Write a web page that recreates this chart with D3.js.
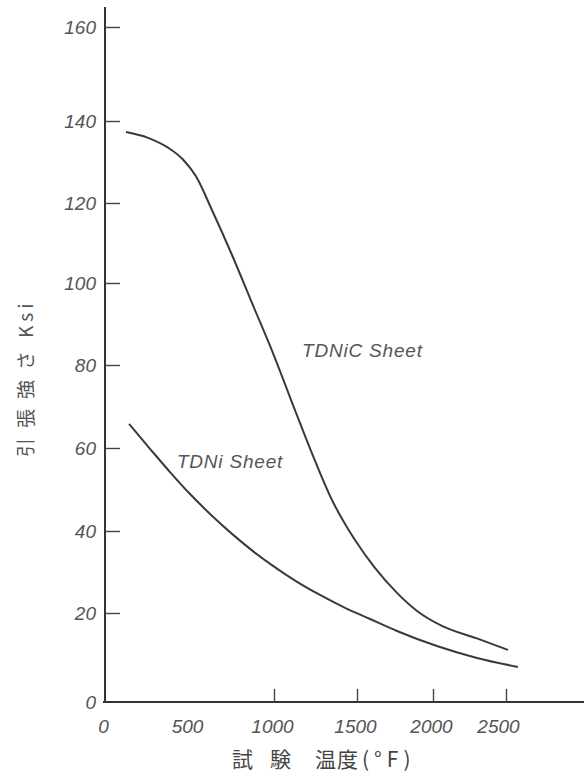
<!DOCTYPE html>
<html>
<head>
<meta charset="utf-8">
<script src="https://cdn.jsdelivr.net/npm/d3@7"></script>
<style>
  html, body { margin: 0; padding: 0; background: #fff; }
  svg { display: block; }
  .tick-label { font-family: "Liberation Sans", "DejaVu Sans", sans-serif; font-style: italic; fill: #555; font-size: 19px; }
</style>
</head>
<body>
<svg id="chart" width="584" height="776"></svg>
<script>
// ---- data ----
const tempTDNiC = [125, 256, 375, 464, 541, 635, 753, 876, 994, 1114, 1235, 1355, 1428, 1488, 1618, 1763, 1895, 2068, 2301, 2514];
const strengthTDNiC = [137.3, 135.9, 133.5, 130.6, 126.5, 118.25, 107, 94.6, 82.9, 70.4, 58.1, 47, 41.7, 37.8, 31, 24.9, 20.5, 17.0, 14.3, 11.7];
const tempTDNi = [143, 268, 387, 506, 624, 753, 876, 994, 1139, 1277, 1416, 1586, 1763, 2027, 2301, 2582];
const strengthTDNi = [65.8, 59.8, 54.2, 48.9, 44.1, 39.3, 35.1, 31.5, 27.6, 24.4, 21.5, 18.65, 15.96, 12.58, 9.89, 7.87];
const xTickLabels = [0, 500, 1000, 1500, 2000, 2500];
const xTickMarks = [1000, 1500, 2000, 2500];
const yTickLabels = [0, 20, 40, 60, 80, 100, 120, 140, 160];
const yTickMarks = [20, 40, 60, 80, 100, 120, 140, 160];
const seriesNames = ["TDNiC Sheet", "TDNi Sheet"];
const xTitleParts = ["試", "験", "温度", "(°F)"];
const yTitleParts = ["引張強さ", "Ksi"];

// ---- scales (hand-drawn original: piecewise linear) ----
const x = d3.scaleLinear().domain(xTickLabels).range([105, 189, 274, 357, 433, 506]);
const y = d3.scaleLinear().domain(yTickLabels).range([702, 613, 531, 448, 365, 283, 203, 121, 27]);

const svg = d3.select("#chart");
const axisColor = "#333";
const axisX = 105, axisY = 702;

// axis lines
svg.append("line").attr("x1", axisX).attr("x2", axisX).attr("y1", 7).attr("y2", axisY)
  .attr("stroke", axisColor).attr("stroke-width", 2);
svg.append("line").attr("x1", axisX - 2).attr("x2", 584).attr("y1", axisY).attr("y2", axisY)
  .attr("stroke", axisColor).attr("stroke-width", 2);

// y tick marks (inside)
const yMarks = svg.append("g").attr("transform", `translate(${axisX},0)`)
  .call(d3.axisRight(y).tickValues(yTickMarks).tickSize(15).tickFormat(""));
yMarks.select(".domain").remove();
yMarks.selectAll(".tick line").attr("stroke", "#444").attr("stroke-width", 1.4);

// y tick labels
const yLab = svg.append("g").attr("transform", `translate(${axisX},0)`)
  .call(d3.axisLeft(y).tickValues(yTickLabels).tickSize(0).tickPadding(9).tickFormat(d => d));
yLab.select(".domain").remove();
yLab.selectAll("text").attr("class", "tick-label").attr("font-size", null).attr("font-family", null);

// x tick marks (inside)
const xMarks = svg.append("g").attr("transform", `translate(0,${axisY})`)
  .call(d3.axisTop(x).tickValues(xTickMarks).tickSize(13).tickFormat(""));
xMarks.select(".domain").remove();
xMarks.selectAll(".tick line").attr("stroke", "#444").attr("stroke-width", 1.4);

// x tick labels
const xLab = svg.append("g").attr("transform", `translate(0,${axisY})`)
  .call(d3.axisBottom(x).tickValues(xTickLabels).tickSize(0).tickPadding(18).tickFormat(d => d));
xLab.select(".domain").remove();
xLab.selectAll("text").attr("class", "tick-label").attr("font-size", null).attr("font-family", null)
  .attr("dx", d => d === 2500 ? -8 : -2);

// curves
const line = d3.line().x(d => x(d[0])).y(d => y(d[1])).curve(d3.curveMonotoneX);
const s1 = tempTDNiC.map((t, i) => [t, strengthTDNiC[i]]);
const s2 = tempTDNi.map((t, i) => [t, strengthTDNi[i]]);
[s1, s2].forEach(s => {
  svg.append("path").datum(s).attr("d", line)
    .attr("fill", "none").attr("stroke", "#3a3a3a").attr("stroke-width", 2);
});

// series labels
svg.append("text").attr("x", x(1169)).attr("y", y(81.9))
  .attr("font-family", "Liberation Sans, DejaVu Sans, sans-serif").attr("font-style", "italic")
  .attr("font-size", 19).attr("letter-spacing", 0.8).attr("fill", "#555").text(seriesNames[0]);
svg.append("text").attr("x", x(428)).attr("y", y(55.2))
  .attr("font-family", "Liberation Sans, DejaVu Sans, sans-serif").attr("font-style", "italic")
  .attr("font-size", 19).attr("letter-spacing", 0.8).attr("fill", "#555").text(seriesNames[1]);

// x axis title
const xt = svg.append("text").attr("x", 232).attr("y", 767)
  .attr("font-family", "Noto Sans CJK JP, sans-serif").attr("font-size", 21).attr("fill", "#444");
xt.append("tspan").text(xTitleParts[0]);
xt.append("tspan").attr("dx", 17).text(xTitleParts[1]);
xt.append("tspan").attr("dx", 24).attr("letter-spacing", 1).text(xTitleParts[2]);
xt.append("tspan").attr("dx", 3).attr("letter-spacing", 5).text(xTitleParts[3]);

// y axis title (rotated)
const yt = svg.append("text").attr("transform", "translate(33,457) rotate(-90)")
  .attr("font-family", "Noto Sans CJK JP, sans-serif").attr("font-size", 19).attr("fill", "#555");
yt.append("tspan").attr("letter-spacing", 10).text(yTitleParts[0]);
yt.append("tspan").attr("dx", 3).attr("letter-spacing", 4).text(yTitleParts[1]);
</script>
</body>
</html>
